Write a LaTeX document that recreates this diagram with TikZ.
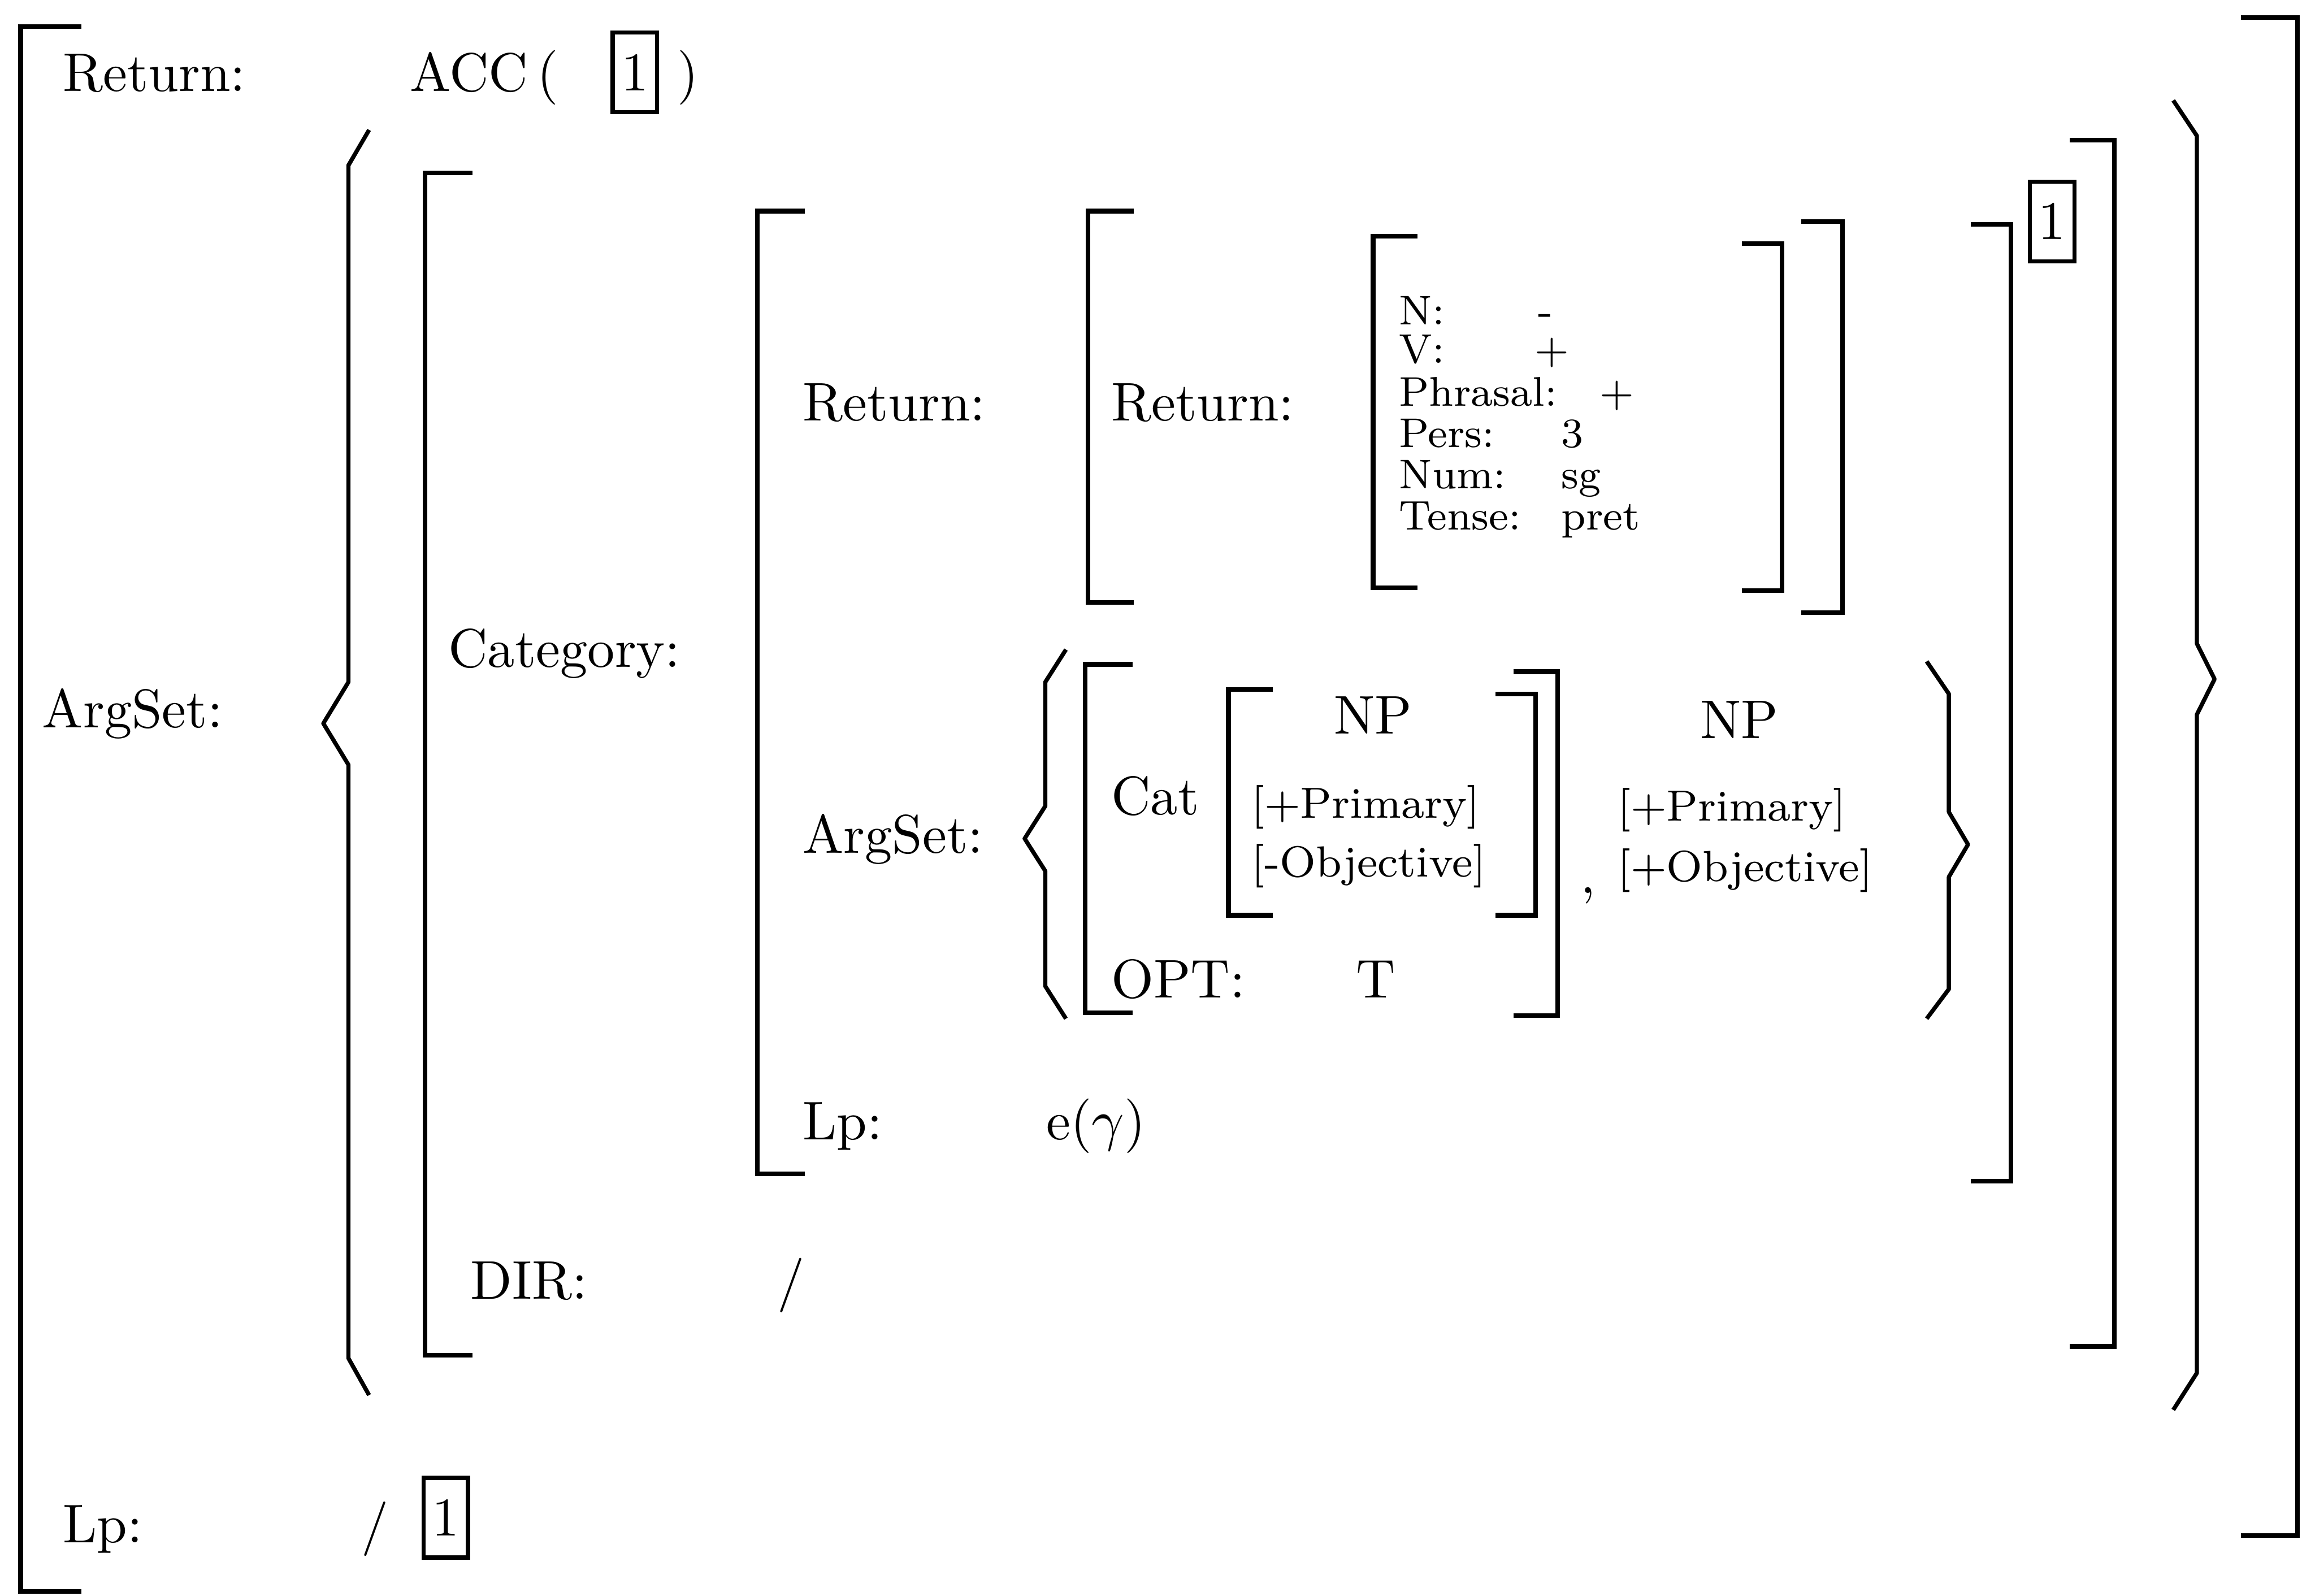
\documentclass[tikz,border=0pt]{standalone}
\usepackage{amsmath}
\usepackage{tikz}
\usetikzlibrary{positioning}

\begin{document}
\begin{tikzpicture}[
  x=0.01cm, y=-0.01cm,
  lab/.style={anchor=base west, inner sep=0pt, font=\fontsize{10.5}{12}\selectfont},
  sm/.style={anchor=base west, inner sep=0pt, font=\fontsize{8.4}{10}\selectfont},
  ft/.style={anchor=base west, inner sep=0pt, font=\fontsize{8}{9}\selectfont},
  tagbox/.style={draw=black, line width=0.8pt, inner sep=0pt, minimum width=3mm,
                 minimum height=5.4mm, font=\fontsize{10.5}{12}\selectfont},
  brk/.style={draw=black, line width=0.9pt, line join=miter},
  brc/.style={draw=black, line width=0.8pt, line join=round}]
\useasboundingbox (0,0) rectangle (1568,1081);

% ================= square brackets =================
% left: x / top / bottom / tick end
\foreach \x/\t/\b/\w in {14/18/1078/55, 288/117/918/320, 513/143/795/545,
                         737/143/408/768, 930/160/398/960, 735/450/686/767,
                         832/467/620/862}
  \draw[brk] (\w,\t) -- (\x,\t) -- (\x,\b) -- (\w,\b);
% right: x / top / bottom / tick start
\foreach \x/\t/\b/\w in {1556/12/1040/1518, 1432/95/912/1402, 1362/152/800/1335,
                         1248/150/415/1220, 1207/165/400/1180, 1055/455/688/1025,
                         1040/470/620/1013}
  \draw[brk] (\w,\t) -- (\x,\t) -- (\x,\b) -- (\w,\b);

% ================= set braces =================
\draw[brc] (250,88) -- (236,112) -- (236,462) -- (219,490) -- (236,518)
  -- (236,920) -- (250,945);
\draw[brc] (1472,68) -- (1488,92) -- (1488,436) -- (1500,460) -- (1488,484)
  -- (1488,930) -- (1472,955);
\draw[brc] (722,440) -- (708,462) -- (708,546) -- (694,568) -- (708,590)
  -- (708,668) -- (722,690);
\draw[brc] (1305,448) -- (1320,470) -- (1320,550) -- (1333,572) -- (1320,594)
  -- (1320,670) -- (1305,690);

% ================= outer level =================
\node[lab] (ret0) at (42,62) {Return:};
\node[lab] (acc) at (277,62) {ACC\,(};
\node[tagbox] (tagA) at (430,49) {1};
\node[lab] (accR) at (458,62) {)};
\node[lab] (args0) at (28,493) {ArgSet:};
\node[lab] (lp0) at (42,1045) {Lp:};
\node[lab] (lpv0) at (244,1045) {/};
\node[tagbox] (tagC) at (302,1028) {1};

% ================= argument: category + direction =================
\node[lab] (cat1) at (303,452) {Category:};
\node[lab] (dir1) at (318,880) {DIR:};
\node[lab] (dirv1) at (526,880) {/};
\node[tagbox] (tagB) at (1390,150) {1};

% ================= category value =================
\node[lab] (ret2) at (543,285) {Return:};
\node[lab] (ret3) at (752,285) {Return:};

% feature bundle
\node[ft] (fN) at (947,220) {N:};      \node[ft] (vN) at (1041,220) {-};
\node[ft] (fV) at (947,246) {V:};      \node[ft] (vV) at (1039,246) {+};
\node[ft] (fP) at (947,275) {Phrasal:};\node[ft] (vP) at (1083,275) {+};
\node[ft] (fR) at (947,303) {Pers:};   \node[ft] (vR) at (1057,303) {3};
\node[ft] (fU) at (947,331) {Num:};    \node[ft] (vU) at (1057,331) {sg};
\node[ft] (fT) at (947,359) {Tense:};  \node[ft] (vT) at (1057,359) {pret};

% argument set of the category
\node[lab] (args2) at (543,578) {ArgSet:};
\node[lab] (catA) at (752,552) {Cat};
\node[lab, anchor=base] (np1) at (930,497) {NP};
\node[sm] (pr1) at (847,554) {[+Primary]};
\node[sm] (ob1) at (847,594) {[-Objective]};
\node[lab] (comma) at (1070,605) {,};
\node[lab, anchor=base] (np2) at (1178,500) {NP};
\node[sm] (pr2) at (1095,556) {[+Primary]};
\node[sm] (ob2) at (1095,597) {[+Objective]};
\node[lab] (opt) at (752,676) {OPT:};
\node[lab] (optv) at (918,676) {T};

\node[lab] (lp2) at (543,772) {Lp:};
\node[lab] (lpv2) at (708,772) {e($\gamma$)};
\end{tikzpicture}
\end{document}
